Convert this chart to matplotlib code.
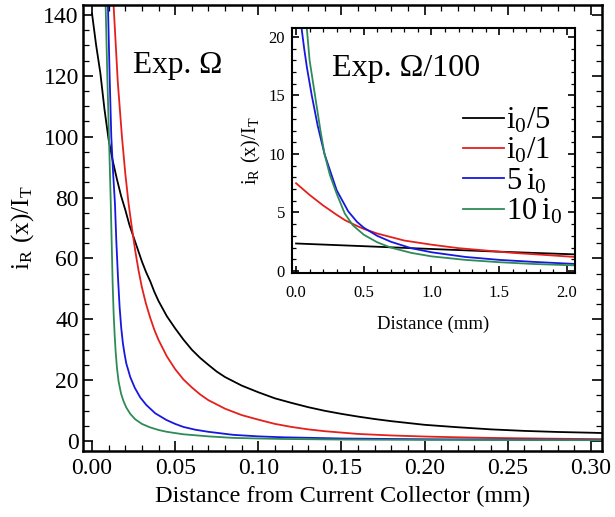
import matplotlib
matplotlib.use("Agg")
import matplotlib.pyplot as plt
from matplotlib.ticker import MultipleLocator, FormatStrFormatter

plt.rcParams['font.family'] = 'Liberation Serif'
plt.rcParams['mathtext.default'] = 'regular'

# main panel: distance from current collector (mm) vs i_R(x)/I_T
x_black = [0, 0.0025, 0.005, 0.0075, 0.01, 0.0125, 0.015, 0.0175, 0.02, 0.0225, 0.025, 0.0275,
           0.03, 0.0325, 0.035, 0.0375, 0.04, 0.045, 0.05, 0.055, 0.06, 0.065, 0.07, 0.075,
           0.08, 0.09, 0.10, 0.11, 0.12, 0.13, 0.14, 0.15, 0.16, 0.17, 0.18, 0.19, 0.20,
           0.22, 0.24, 0.26, 0.28, 0.30, 0.307]
y_black = [140.5, 130, 121, 109, 99, 92, 86, 80.5, 76, 71, 67, 63,
           59, 55.5, 52.5, 49, 46, 41, 37, 33.3, 30, 27.3, 25, 22.8,
           21, 18.2, 16, 14, 12.5, 11.1, 9.9, 8.9, 8.0, 7.2, 6.5, 5.9, 5.3,
           4.5, 3.8, 3.3, 2.95, 2.7, 2.6]

x_red = [0.011, 0.013, 0.0155, 0.018, 0.02, 0.022, 0.024, 0.026, 0.028, 0.030, 0.0325, 0.035,
         0.0375, 0.04, 0.045, 0.05, 0.055, 0.06, 0.065, 0.07, 0.08, 0.09, 0.10, 0.11, 0.12,
         0.13, 0.14, 0.16, 0.18, 0.20, 0.22, 0.24, 0.26, 0.28, 0.307]
y_red = [160, 143, 118, 100, 88, 78, 70, 62.5, 56, 50.5, 45, 40.5,
         36.5, 33.2, 27.8, 23.6, 20.2, 17.6, 15.3, 13.4, 10.6, 8.5, 7.0, 5.6, 4.6,
         3.8, 3.2, 2.3, 1.8, 1.45, 1.2, 1.0, 0.85, 0.72, 0.58]

x_blue = [0.0088, 0.0096, 0.0106, 0.0116, 0.0127, 0.0138, 0.0146, 0.0156, 0.0166, 0.0176,
          0.0186, 0.0196, 0.0206, 0.023, 0.0257, 0.029, 0.0327, 0.038, 0.0447, 0.05, 0.055,
          0.062, 0.07, 0.085, 0.10, 0.115, 0.15, 0.20, 0.25, 0.307]
y_blue = [160, 143, 120, 100, 88, 78, 66, 54, 44, 37,
          32, 28.5, 25.5, 21, 17.5, 14.3, 11.8, 9.1, 6.9, 5.6, 4.6,
          3.7, 3.0, 2.0, 1.5, 1.2, 0.8, 0.55, 0.45, 0.38]

x_green = [0.0075, 0.0082, 0.0092, 0.0102, 0.0112, 0.0118, 0.0124, 0.013, 0.0136, 0.0142,
           0.015, 0.016, 0.0175, 0.019, 0.0206, 0.023, 0.026, 0.03, 0.0347, 0.04, 0.045,
           0.0547, 0.07, 0.085, 0.10, 0.115, 0.15, 0.20, 0.25, 0.307]
y_green = [160, 143, 120, 100, 80, 66, 52, 42, 35, 29.5,
           24, 19.5, 15.5, 13, 11, 8.9, 7.1, 5.6, 4.5, 3.6, 3.0,
           2.2, 1.5, 1.0, 0.8, 0.65, 0.45, 0.35, 0.3, 0.25]

# inset: same quantity for conductivity / 100, distance up to 2 mm
xi_black = [0, 0.5, 1.0, 1.5, 2.06]
yi_black = [2.35, 2.12, 1.88, 1.65, 1.42]

xi_red = [0, 0.1, 0.2, 0.3, 0.36, 0.45, 0.5, 0.6, 0.7, 0.8, 1.0, 1.2, 1.4, 1.6, 1.8, 2.06]
yi_red = [7.5, 6.5, 5.6, 4.8, 4.35, 3.85, 3.6, 3.2, 2.9, 2.6, 2.25, 1.95, 1.75, 1.55, 1.4, 1.2]

xi_blue = [0.03, 0.04, 0.06, 0.08, 0.116, 0.16, 0.21, 0.3, 0.385, 0.45, 0.5, 0.6, 0.7, 0.85,
           1.0, 1.25, 1.5, 1.75, 2.06]
yi_blue = [21.7, 20.8, 19.0, 17.4, 15, 12.4, 10, 6.9, 5.1, 4.2, 3.7, 3.0, 2.5, 1.95,
           1.6, 1.2, 0.95, 0.78, 0.6]

xi_green = [0.07, 0.079, 0.1, 0.14, 0.18, 0.21, 0.25, 0.3, 0.36, 0.42, 0.5, 0.6, 0.7, 0.85,
            1.0, 1.25, 1.5, 1.75, 2.06]
yi_green = [22, 20.8, 18, 15, 12, 10, 8.2, 6.6, 4.9, 3.9, 3.1, 2.45, 2.0, 1.55,
            1.25, 0.95, 0.75, 0.6, 0.48]

labels = [r'$i_0/5$', r'$i_0/1$', r'$5\,i_0$', r'$10\,i_0$']
colors = ['black', '#e5201c', '#1717e0', '#2e8b57']


def style_axes(ax, major_len, minor_len, lw):
    for s in ax.spines.values():
        s.set_linewidth(lw)
    ax.tick_params(which='both', direction='in', top=True, right=True)
    ax.tick_params(which='major', length=major_len, width=1.2)
    ax.tick_params(which='minor', length=minor_len, width=0.9)


fig = plt.figure(figsize=(6.15, 5.17), dpi=100)

# ===== MAIN PANEL =====
ax = fig.add_axes([0.135, 0.1277, 0.8439, 0.8627])
for xs, ys, c in zip([x_black, x_red, x_blue, x_green],
                     [y_black, y_red, y_blue, y_green], colors):
    ax.plot(xs, ys, color=c, lw=1.3)

ax.set_xlim(-0.0054, 0.3067)
ax.set_ylim(-3.3, 143.3)
ax.xaxis.set_major_locator(MultipleLocator(0.05))
ax.xaxis.set_minor_locator(MultipleLocator(0.01))
ax.xaxis.set_major_formatter(FormatStrFormatter('%.2f'))
ax.yaxis.set_major_locator(MultipleLocator(20))
ax.yaxis.set_minor_locator(MultipleLocator(5))
style_axes(ax, 7, 4, 1.8)
ax.tick_params(axis='x', labelsize=17, pad=5)
ax.tick_params(axis='y', labelsize=17, pad=3)
ax.set_xlabel('Distance from Current Collector (mm)', fontsize=17.5, labelpad=5)
ax.set_ylabel(r'$i_R\ (x)/I_T$', fontsize=18, labelpad=5)
ax.text(0.096, 0.848, 'Exp. Ω', transform=ax.transAxes, fontsize=22.5, va='baseline')

# ===== INSET =====
axi = fig.add_axes([0.4748, 0.4720, 0.4602, 0.4739])
axi.set_facecolor('white')
for xs, ys, c, lab in zip([xi_black, xi_red, xi_blue, xi_green],
                          [yi_black, yi_red, yi_blue, yi_green], colors, labels):
    axi.plot(xs, ys, color=c, lw=1.3, label=lab)

axi.set_xlim(-0.03, 2.06)
axi.set_ylim(-0.17, 20.77)
axi.xaxis.set_major_locator(MultipleLocator(0.5))
axi.xaxis.set_minor_locator(MultipleLocator(0.1))
axi.xaxis.set_major_formatter(FormatStrFormatter('%.1f'))
axi.yaxis.set_major_locator(MultipleLocator(5))
axi.yaxis.set_minor_locator(MultipleLocator(1))
style_axes(axi, 5, 3, 1.5)
axi.tick_params(axis='x', labelsize=12, pad=9)
axi.tick_params(axis='y', labelsize=12, pad=5)
axi.set_xlabel('Distance (mm)', fontsize=13.5, labelpad=10)
axi.set_ylabel(r'$i_R\ (x)/I_T$', fontsize=14.5, labelpad=4)
axi.text(0.141, 0.804, 'Exp. Ω/100', transform=axi.transAxes, fontsize=23, va='baseline')
axi.legend(loc='upper right', bbox_to_anchor=(0.955, 0.68), frameon=False, fontsize=22,
           handlelength=1.35, handletextpad=0.08, labelspacing=0.02, borderpad=0,
           borderaxespad=0)

fig.savefig('out.png', dpi=100)
